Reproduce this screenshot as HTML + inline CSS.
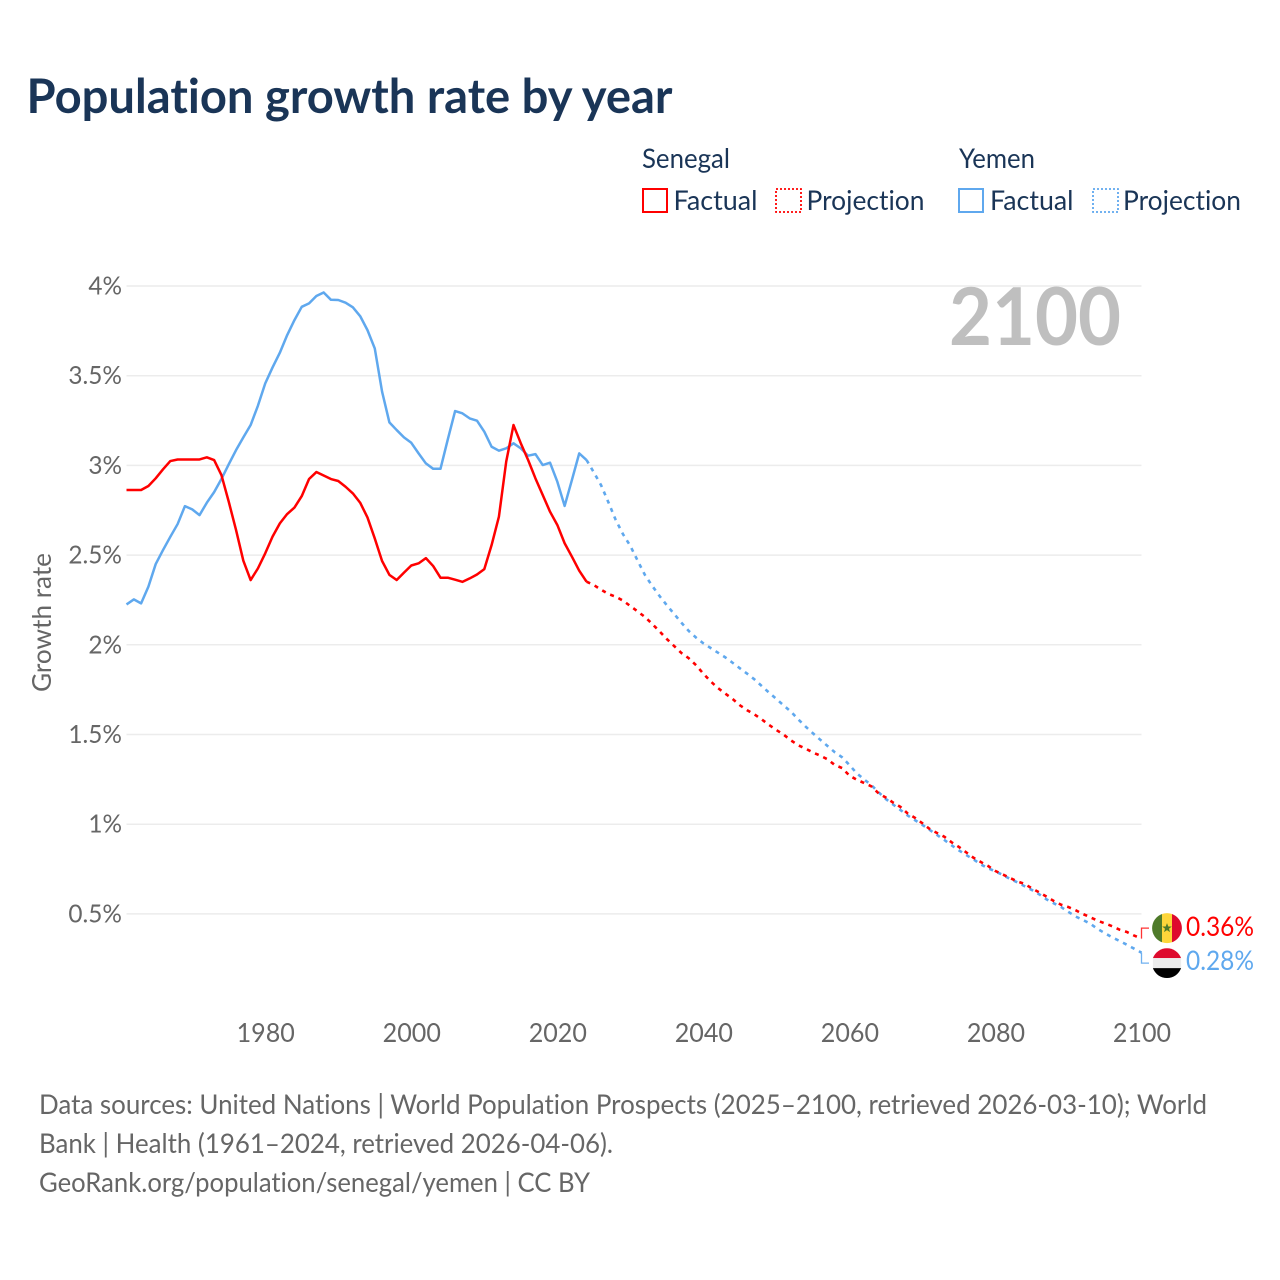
<!DOCTYPE html>
<html lang="en">
<head>
<meta charset="utf-8">
<title>Population growth rate by year</title>
<style>
  html, body { margin: 0; padding: 0; background: #fff; }
  svg { display: block; }
  text { font-family: Lato, Carlito, "Liberation Sans", sans-serif; font-variant-ligatures: none; font-feature-settings: "liga" 0, "clig" 0; }
  .legend { font-size: 27px; fill: #1a3557; }
  .foot { font-size: 27px; fill: #666; }
</style>
</head>
<body>
<svg id="chart" xmlns="http://www.w3.org/2000/svg" width="1280" height="1280" viewBox="0 0 1280 1280">
  <rect x="0" y="0" width="1280" height="1280" fill="#fff"/>
  <text x="26.5" y="113" font-size="48" font-weight="bold" fill="#1a3557" textLength="646" lengthAdjust="spacingAndGlyphs">Population growth rate by year</text>

  <g>
    <text class="legend" x="642" y="168" textLength="88" lengthAdjust="spacingAndGlyphs">Senegal</text>
    <text class="legend" x="959" y="168" textLength="76" lengthAdjust="spacingAndGlyphs">Yemen</text>
    <rect x="643" y="189" width="24" height="23" fill="none" stroke="#ff0000" stroke-width="2"/>
    <text class="legend" x="673.5" y="210" textLength="84" lengthAdjust="spacingAndGlyphs">Factual</text>
    <rect x="776" y="189" width="25" height="23" fill="none" stroke="#ff0000" stroke-width="1.8" stroke-dasharray="2 2"/>
    <text class="legend" x="806.5" y="210" textLength="118" lengthAdjust="spacingAndGlyphs">Projection</text>
    <rect x="959" y="189" width="24" height="23" fill="none" stroke="#5fa8ee" stroke-width="2"/>
    <text class="legend" x="990" y="210" textLength="83.5" lengthAdjust="spacingAndGlyphs">Factual</text>
    <rect x="1093" y="189" width="25" height="23" fill="none" stroke="#5fa8ee" stroke-width="1.8" stroke-dasharray="2 2"/>
    <text class="legend" x="1123" y="210" textLength="118" lengthAdjust="spacingAndGlyphs">Projection</text>
  </g>

  <g id="grid"></g>
  <g id="yAxis"></g>
  <g id="xAxis"></g>
  <text x="949" y="345" font-size="80" font-weight="bold" fill="#bfbfbf" textLength="172" lengthAdjust="spacingAndGlyphs">2100</text>
  <text transform="translate(51,692) rotate(-90)" x="0" y="0" font-size="26" fill="#666" textLength="139" lengthAdjust="spacingAndGlyphs">Growth rate</text>
  <g id="series"></g>
  <g id="ends"></g>

  <g>
    <text class="foot" x="39" y="1114" textLength="1168" lengthAdjust="spacingAndGlyphs">Data sources: United Nations | World Population Prospects (2025–2100, retrieved 2026-03-10); World</text>
    <text class="foot" x="39" y="1153" textLength="574" lengthAdjust="spacingAndGlyphs">Bank | Health (1961–2024, retrieved 2026-04-06).</text>
    <text class="foot" x="39" y="1192" textLength="551" lengthAdjust="spacingAndGlyphs">GeoRank.org/population/senegal/yemen | CC BY</text>
  </g>
</svg>

<script>
const firstFactualYear = 1961;
const firstProjectionYear = 2024;

const yTicks = [0.5, 1, 1.5, 2, 2.5, 3, 3.5, 4];
const yTickLabels = ["0.5%", "1%", "1.5%", "2%", "2.5%", "3%", "3.5%", "4%"];
const xTicks = [1980, 2000, 2020, 2040, 2060, 2080, 2100];
const xTickLabels = ["1980", "2000", "2020", "2040", "2060", "2080", "2100"];

const senegalFactual = [
  2.863, 2.863, 2.863, 2.885, 2.928, 2.978, 3.024, 3.033, 3.033, 3.033,
  3.033, 3.045, 3.030, 2.946, 2.798, 2.640, 2.469, 2.361, 2.426, 2.510,
  2.603, 2.677, 2.729, 2.765, 2.829, 2.924, 2.963, 2.944, 2.924, 2.913,
  2.881, 2.844, 2.792, 2.710, 2.593, 2.467, 2.390, 2.361, 2.402, 2.442,
  2.454, 2.483, 2.439, 2.374, 2.374, 2.363, 2.351, 2.370, 2.392, 2.422,
  2.556, 2.714, 3.021, 3.225, 3.123, 3.030, 2.928, 2.835, 2.742, 2.668,
  2.566, 2.491, 2.413, 2.352
];
const yemenFactual = [
  2.225, 2.253, 2.231, 2.324, 2.450, 2.528, 2.602, 2.673, 2.773, 2.755,
  2.723, 2.792, 2.851, 2.924, 3.006, 3.085, 3.156, 3.225, 3.333, 3.457,
  3.546, 3.628, 3.726, 3.810, 3.884, 3.903, 3.944, 3.964, 3.923, 3.922,
  3.907, 3.881, 3.832, 3.754, 3.652, 3.411, 3.240, 3.197, 3.156, 3.126,
  3.067, 3.011, 2.981, 2.981, 3.145, 3.303, 3.290, 3.262, 3.249, 3.188,
  3.104, 3.082, 3.095, 3.123, 3.095, 3.054, 3.063, 3.002, 3.015, 2.909,
  2.774, 2.919, 3.067, 3.030
];
const senegalProjection = [
  2.352, 2.333, 2.307, 2.283, 2.268, 2.246, 2.216, 2.186, 2.155, 2.116,
  2.075, 2.032, 1.993, 1.954, 1.925, 1.886, 1.839, 1.796, 1.759, 1.728,
  1.698, 1.663, 1.635, 1.612, 1.584, 1.553, 1.525, 1.499, 1.467, 1.440,
  1.421, 1.400, 1.382, 1.362, 1.330, 1.313, 1.271, 1.248, 1.230, 1.211,
  1.172, 1.148, 1.120, 1.096, 1.059, 1.035, 1.005, 0.973, 0.951, 0.930,
  0.899, 0.873, 0.843, 0.813, 0.789, 0.767, 0.739, 0.720, 0.700, 0.681,
  0.667, 0.642, 0.620, 0.596, 0.572, 0.551, 0.538, 0.520, 0.499, 0.481,
  0.462, 0.447, 0.431, 0.412, 0.399, 0.379, 0.362
];
const yemenProjection = [
  3.030, 2.961, 2.889, 2.794, 2.696, 2.616, 2.551, 2.469, 2.389, 2.328,
  2.272, 2.220, 2.172, 2.123, 2.077, 2.040, 2.008, 1.982, 1.956, 1.930,
  1.900, 1.869, 1.839, 1.807, 1.770, 1.733, 1.698, 1.662, 1.627, 1.584,
  1.544, 1.507, 1.471, 1.436, 1.401, 1.373, 1.330, 1.284, 1.250, 1.218,
  1.178, 1.140, 1.109, 1.079, 1.048, 1.022, 0.996, 0.968, 0.940, 0.912,
  0.882, 0.854, 0.828, 0.804, 0.776, 0.754, 0.737, 0.717, 0.695, 0.676,
  0.654, 0.633, 0.609, 0.581, 0.559, 0.538, 0.511, 0.485, 0.466, 0.445,
  0.416, 0.392, 0.369, 0.349, 0.328, 0.306, 0.284
];

const SVGNS = "http://www.w3.org/2000/svg";
const RED = "#ff0000";
const BLUE = "#5fa8ee";

function xScale(year) { return 126.5 + (year - 1961) * (1141.5 - 126.5) / (2100 - 1961); }
function yScale(v) { return 1003.6 - v * 179.4; }

function make(tag, attrs, parent) {
  const node = document.createElementNS(SVGNS, tag);
  for (const k in attrs) node.setAttribute(k, attrs[k]);
  parent.appendChild(node);
  return node;
}
function linePoints(values, startYear) {
  return values.map(function (v, i) {
    return xScale(startYear + i).toFixed(2) + "," + yScale(v).toFixed(2);
  }).join(" ");
}
function squeeze(node, factor) {
  node.setAttribute("textLength", (node.getComputedTextLength() * factor).toFixed(2));
  node.setAttribute("lengthAdjust", "spacingAndGlyphs");
}

const gridG = document.getElementById("grid");
const yG = document.getElementById("yAxis");
yTicks.forEach(function (t, i) {
  const g = make("line", { x1: xScale(1961), x2: xScale(2100), y1: yScale(t), y2: yScale(t), stroke: "#ececec", "stroke-width": 1.5 }, gridG);
  
  
  const l = make("text", { x: 122, y: yScale(t) + 8.5, "text-anchor": "end", "font-size": 25, fill: "#666" }, yG);
  l.textContent = yTickLabels[i];
  squeeze(l, 0.975);
  
  
});

const xG = document.getElementById("xAxis");
xTicks.forEach(function (t, i) {
  const l = make("text", { x: xScale(t) + 0.5, y: 1042, "text-anchor": "middle", "font-size": 26, fill: "#666" }, xG);
  l.textContent = xTickLabels[i];
  squeeze(l, 0.965);
  
  
});

const seriesG = document.getElementById("series");
const solidStyle = { fill: "none", "stroke-width": 2.5, "stroke-linejoin": "round" };
const dashStyle = { fill: "none", "stroke-width": 2.6, "stroke-dasharray": "4 5" };

const yemenF = make("polyline", Object.assign({ points: linePoints(yemenFactual, firstFactualYear), stroke: BLUE }, solidStyle), seriesG);


const yemenP = make("polyline", Object.assign({ points: linePoints(yemenProjection, firstProjectionYear), stroke: BLUE }, dashStyle), seriesG);


const senegalF = make("polyline", Object.assign({ points: linePoints(senegalFactual, firstFactualYear), stroke: RED }, solidStyle), seriesG);


const senegalP = make("polyline", Object.assign({ points: linePoints(senegalProjection, firstProjectionYear), stroke: RED }, dashStyle), seriesG);



const endsG = document.getElementById("ends");
const senegalLast = senegalProjection[senegalProjection.length - 1];
const yemenLast = yemenProjection[yemenProjection.length - 1];
const senegalY = yScale(senegalLast);
const yemenY = yScale(yemenLast);
const endX = xScale(2100);
const senegalRow = senegalY - 10.5;
const yemenRow = yemenY + 10.5;

const sb = make("polyline", { points: endX + "," + senegalY + " " + endX + "," + senegalRow + " " + (endX + 7.5) + "," + senegalRow, fill: "none", stroke: RED, "stroke-width": 1.3, opacity: 0.8 }, endsG);


const yb = make("polyline", { points: endX + "," + yemenY + " " + endX + "," + yemenRow + " " + (endX + 7.5) + "," + yemenRow, fill: "none", stroke: BLUE, "stroke-width": 1.3, opacity: 0.9 }, endsG);



/* Senegal flag */
const sf = make("g", { transform: "translate(1167," + senegalRow + ")" }, endsG);


make("path", { d: "M-5,-14.1 A15,15 0 0 0 -5,14.1 Z", fill: "#4e7a2a" }, sf);
make("path", { d: "M-5,-14.1 A15,15 0 0 1 5,-14.1 L5,14.1 A15,15 0 0 1 -5,14.1 Z", fill: "#fdd63a" }, sf);
make("path", { d: "M5,-14.1 A15,15 0 0 1 5,14.1 Z", fill: "#de0a2d" }, sf);
make("polygon", { points: "0,-5 1.3,-1.6 4.8,-1.6 2,0.6 3,4 0,2 -3,4 -2,0.6 -4.8,-1.6 -1.3,-1.6", fill: "#4e7a2a" }, sf);

/* Yemen flag */
const yf = make("g", { transform: "translate(1167," + yemenRow + ")" }, endsG);


make("path", { d: "M-14.1,-5 A15,15 0 0 1 14.1,-5 Z", fill: "#de0a2d" }, yf);
make("rect", { x: -14.1, y: -5, width: 28.2, height: 10, fill: "#ececec" }, yf);
make("path", { d: "M-14.1,5 A15,15 0 0 0 14.1,5 Z", fill: "#000" }, yf);

const sl = make("text", { x: 1186, y: senegalRow + 8, "font-size": 27, fill: RED, textLength: 68, lengthAdjust: "spacingAndGlyphs" }, endsG);
sl.textContent = senegalLast.toFixed(2) + "%";


const yl = make("text", { x: 1186, y: yemenRow + 7, "font-size": 27, fill: BLUE, textLength: 68, lengthAdjust: "spacingAndGlyphs" }, endsG);
yl.textContent = yemenLast.toFixed(2) + "%";


</script>
</body>
</html>
